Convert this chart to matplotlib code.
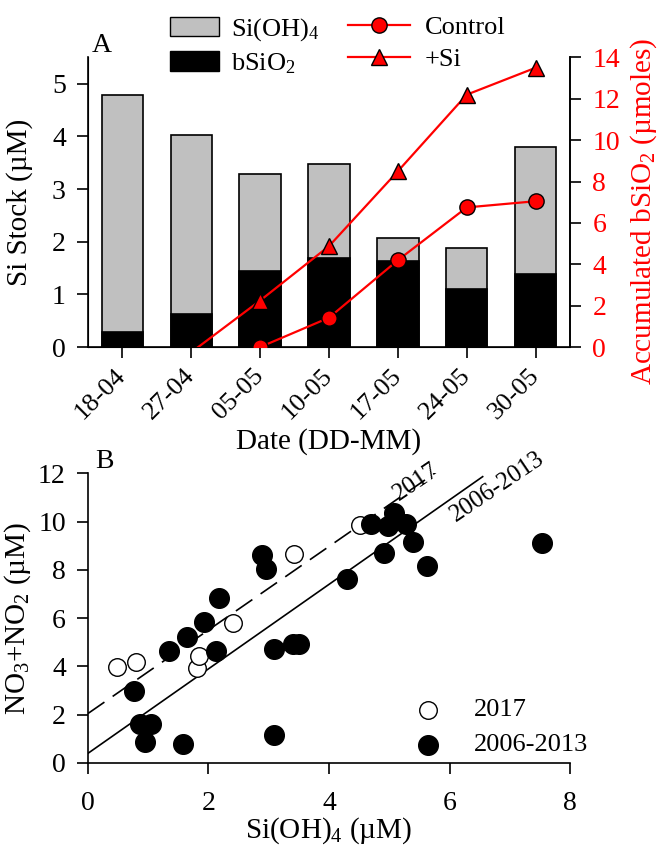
import numpy as np
import matplotlib
matplotlib.use('Agg')
import matplotlib.pyplot as plt
from matplotlib.patches import Patch
from matplotlib.lines import Line2D

plt.rcParams['font.family'] = ['Liberation Serif', 'DejaVu Serif']
plt.rcParams['mathtext.fontset'] = 'custom'
plt.rcParams['mathtext.rm'] = 'Liberation Serif'
plt.rcParams['mathtext.it'] = 'Liberation Serif:italic'
plt.rcParams['mathtext.default'] = 'rm'

# panel A data
dates = ['18-04', '27-04', '05-05', '10-05', '17-05', '24-05', '30-05']
si_total = [4.79, 4.02, 3.28, 3.47, 2.08, 1.88, 3.79]
bsio2 = [0.28, 0.62, 1.44, 1.69, 1.63, 1.10, 1.38]
control = [np.nan, np.nan, 0.0, 1.42, 4.2, 6.75, 7.05]
plus_si = [np.nan, -0.25, 2.25, 4.88, 8.5, 12.2, 13.5]

# panel B data
si_2017 = [0.48, 0.79, 1.81, 1.85, 2.41, 3.42, 4.52]
n_2017 = [3.98, 4.18, 3.93, 4.45, 5.8, 8.65, 9.85]
si_old = [0.77, 0.86, 1.05, 0.95, 1.58, 1.34, 1.64, 1.92, 2.12, 2.18, 2.88, 2.95,
          3.08, 3.08, 3.40, 3.50, 4.30, 4.70, 4.91, 4.98, 5.08, 5.27, 5.40, 5.63, 7.53]
n_old = [3.0, 1.6, 1.6, 0.88, 0.8, 4.65, 5.2, 5.82, 4.65, 6.82, 8.6, 8.05,
         4.72, 1.18, 4.92, 4.92, 7.62, 9.88, 8.7, 9.82, 10.35, 9.88, 9.15, 8.18, 9.1]
fit_2017 = (2.05, 1.73)   # intercept, slope
fit_old = (0.40, 1.75)

TICK = 20
LAB = 21
LEG = 19

fig = plt.figure(figsize=(6.64, 8.57), dpi=100)

# ---- panel A ----
ax = fig.add_axes([0.1325, 0.595, 0.726, 0.338])
x = np.arange(len(dates))
ax.bar(x, si_total, width=0.6, color='#c0c0c0', edgecolor='black', linewidth=1.2, zorder=2)
ax.bar(x, bsio2, width=0.6, color='black', edgecolor='black', linewidth=1.2, zorder=3)
ax.set_xlim(-0.5, 6.5)
ax.set_ylim(0, 5.5)
ax.set_yticks([0, 1, 2, 3, 4, 5])
ax.set_xticks(x)
ax.set_xticklabels(dates, rotation=45, ha='right', va='center', rotation_mode='anchor')
ax.tick_params(labelsize=TICK, length=8, width=1.2, direction='out', pad=8)
ax.tick_params(axis='x', labelsize=19, pad=10)
ax.spines['top'].set_visible(False)
for s in ax.spines.values():
    s.set_linewidth(1.2)
ax.set_ylabel('Si Stock (µM)', fontsize=LAB)
ax.yaxis.set_label_coords(-0.115, 0.5)
ax.set_xlabel('Date (DD-MM)', fontsize=LAB, labelpad=3)
ax.text(-0.44, 5.6, 'A', fontsize=20, ha='left', va='baseline')

ax2 = ax.twinx()
ax2.plot(x, control, color='red', lw=1.6, marker='o', ms=11, mfc='red', mec='black', mew=1.0, zorder=5)
ax2.plot(x, plus_si, color='red', lw=1.6, marker='^', ms=11, mfc='red', mec='black', mew=1.0,
         markevery=[2, 3, 4, 5, 6], zorder=5)
ax2.set_ylim(0, 14)
ax2.set_yticks(range(0, 15, 2))
ax2.tick_params(labelsize=TICK, length=8, width=1.2, labelcolor='red', colors='black', pad=8)
ax2.spines['top'].set_visible(False)
ax2.spines['right'].set_linewidth(1.2)
ax2.set_ylabel('Accumulated bSiO$_2$ (µmoles)', fontsize=LAB, color='red')
ax2.yaxis.set_label_coords(1.12, 0.47)
ax2.set_zorder(ax.get_zorder() + 1)

bar_h = [Patch(facecolor='#c0c0c0', edgecolor='black'),
         Patch(facecolor='black', edgecolor='black')]
fig.legend(bar_h, ['Si(OH)$_4$', 'bSiO$_2$'], loc='upper left',
           bbox_to_anchor=(170 / 664, 1 - 16 / 857), frameon=False, fontsize=LEG,
           handlelength=1.85, handleheight=0.75, handletextpad=0.45,
           labelspacing=0.32, borderpad=0, borderaxespad=0)
line_h = [Line2D([], [], color='red', lw=1.6, marker='o', ms=11, mfc='red', mec='black'),
          Line2D([], [], color='red', lw=1.6, marker='^', ms=11, mfc='red', mec='black')]
fig.legend(line_h, ['Control', '+Si'], loc='upper left',
           bbox_to_anchor=(348 / 664, 1 - 16 / 857), frameon=False, fontsize=LEG,
           handlelength=2.35, handletextpad=0.55, labelspacing=0.32,
           borderpad=0, borderaxespad=0)

# ---- panel B ----
bx = fig.add_axes([0.1325, 0.1097, 0.726, 0.338])
bx.scatter(si_2017, n_2017, s=160, facecolors='white', edgecolors='black', linewidths=1.0, zorder=3)
bx.scatter(si_old, n_old, s=200, color='black', zorder=3)
xf = np.array([0, 5.8])
bx.plot(xf, fit_2017[0] + fit_2017[1] * xf, color='black', lw=1.2, dashes=(12, 6))
xf = np.array([0, 6.55])
bx.plot(xf, fit_old[0] + fit_old[1] * xf, color='black', lw=1.2)
bx.text(5.44, 11.65, '2017', fontsize=18, rotation=34, ha='center', va='center')
bx.text(6.79, 11.45, '2006-2013', fontsize=18, rotation=34, ha='center', va='center')
bx.set_xlim(0, 8)
bx.set_ylim(0, 12)
bx.set_xticks([0, 2, 4, 6, 8])
bx.set_yticks([0, 2, 4, 6, 8, 10, 12])
bx.spines['top'].set_visible(False)
bx.spines['right'].set_visible(False)
for s in bx.spines.values():
    s.set_linewidth(1.2)
bx.tick_params(labelsize=TICK, length=8, width=1.2, direction='out', pad=8)
bx.tick_params(axis='x', pad=12)
bx.set_xlabel('Si(OH)$_4$ (µM)', fontsize=LAB, labelpad=0)
bx.set_ylabel('NO$_3$+NO$_2$ (µM)', fontsize=LAB)
bx.yaxis.set_label_coords(-0.115, 0.5)
bx.text(0.12, 12.2, 'B', fontsize=20, ha='left', va='baseline')

bx.scatter([5.65], [2.2], s=160, facecolors='white', edgecolors='black', linewidths=1.0)
bx.scatter([5.65], [0.75], s=200, color='black')
bx.text(6.4, 2.2, '2017', fontsize=LEG, va='center')
bx.text(6.4, 0.75, '2006-2013', fontsize=LEG, va='center')

fig.savefig('out.png', dpi=100)
